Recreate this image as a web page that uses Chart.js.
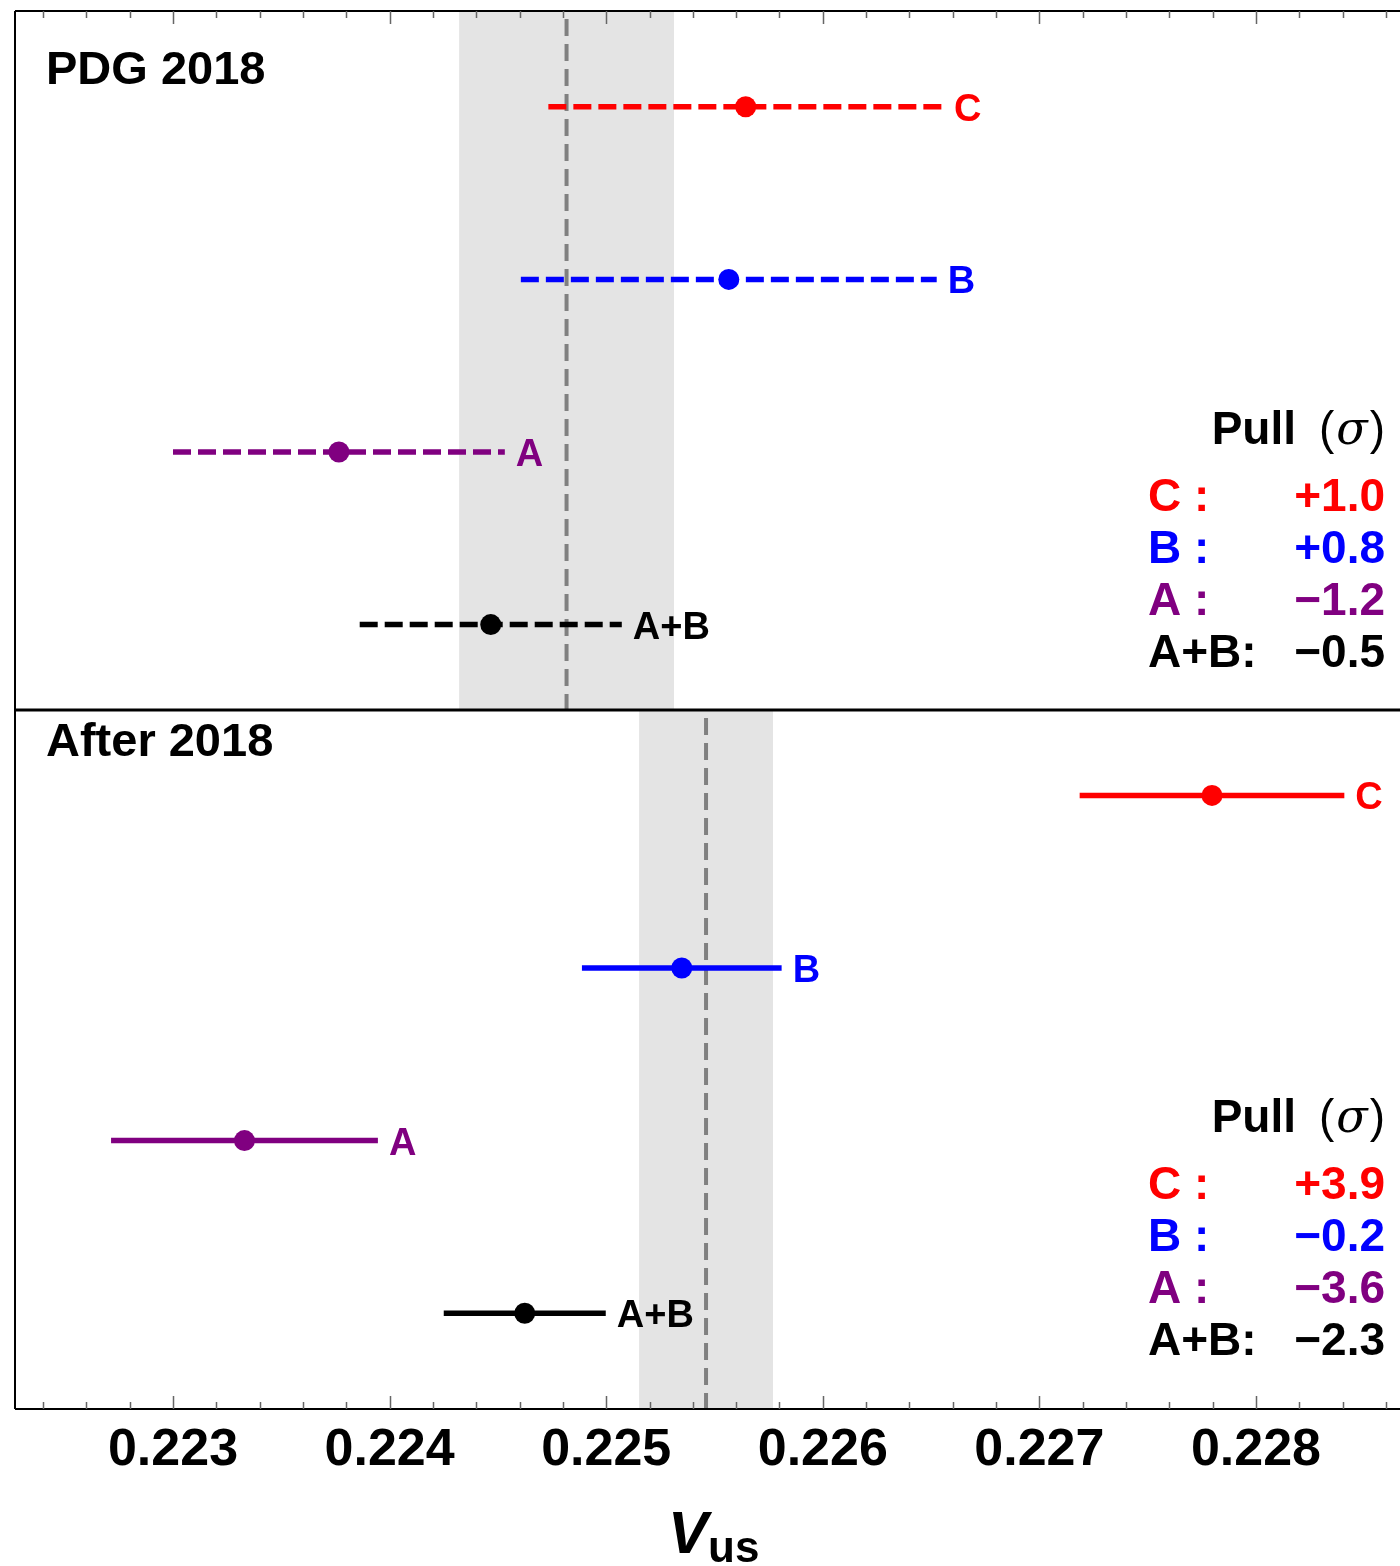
<!DOCTYPE html>
<html>
<head>
<meta charset="utf-8">
<script src="https://cdn.jsdelivr.net/npm/chart.js@4.4.1/dist/chart.umd.min.js"></script>
<style>
  html, body { margin: 0; padding: 0; background: #fff; }
  #wrap { position: relative; width: 1400px; height: 1566px; }
</style>
</head>
<body>
<div id="wrap"><canvas id="vusChart"></canvas></div>
<script>
// ── Data ──────────────────────────────────────────────────────────────────
const LABELS = ['C', 'B', 'A', 'A+B'];
const COLORS = ['#ff0000', '#0000ff', '#800080', '#000000'];

// PDG 2018 panel (dashed bars)
const PDG_CENTRAL = [0.225644, 0.225566, 0.223766, 0.224467];
const PDG_ERROR   = [0.000911, 0.000960, 0.000766, 0.000605];
const PDG_PULL    = ['+1.0', '+0.8', '\u22121.2', '\u22120.5'];
const PDG_FIT     = 0.224817;
const PDG_FIT_ERR = 0.000496;

// After 2018 panel (solid bars)
const NEW_CENTRAL = [0.227797, 0.225349, 0.223330, 0.224624];
const NEW_ERROR   = [0.000611, 0.000461, 0.000616, 0.000374];
const NEW_PULL    = ['+3.9', '\u22120.2', '\u22123.6', '\u22122.3'];
const NEW_FIT     = 0.225461;
const NEW_FIT_ERR = 0.000309;

// Row positions on the (hidden, reversed) y scale
const PDG_ROWS    = [0.555, 1.555, 2.555, 3.555];
const NEW_ROWS    = [4.545, 5.545, 6.545, 7.545];
const PANEL_SPLIT = 4.05;
const Y_MAX       = 8.1;

const PANEL_TITLES = ['PDG 2018', 'After 2018'];

// x axis
const X_MIN       = 0.2222705;
const X_MAX       = 0.228665;
const TICK_LABELS = ['0.223', '0.224', '0.225', '0.226', '0.227', '0.228'];
const MINOR_STEP  = 0.0002;

// ── Style tokens ──────────────────────────────────────────────────────────
const FONT      = '"Liberation Sans", Arial, Helvetica, sans-serif';
const BAND      = '#e4e4e4';
const FIT_LINE  = '#808080';
const TICK_GREY = '#666666';

function rowDataset(center, err, y, color, dashed) {
  return {
    data: [
      { x: center - err, y },
      { x: center,       y },
      { x: center + err, y },
    ],
    showLine:             true,
    borderColor:          color,
    backgroundColor:      color,
    borderWidth:          5.5,
    borderDash:           dashed ? [18, 7] : [],
    pointRadius:          ctx => (ctx.dataIndex === 1 ? 10.5 : 0),
    pointBackgroundColor: color,
    pointBorderWidth:     0,
  };
}

const datasets = [];
LABELS.forEach((_, i) => datasets.push(rowDataset(PDG_CENTRAL[i], PDG_ERROR[i], PDG_ROWS[i], COLORS[i], true)));
LABELS.forEach((_, i) => datasets.push(rowDataset(NEW_CENTRAL[i], NEW_ERROR[i], NEW_ROWS[i], COLORS[i], false)));

// ── Decorations: bands, fit lines, frame, inward ticks, labels ────────────
const decorPlugin = {
  id: 'decor',
  beforeDatasetsDraw(chart) {
    const { ctx, scales: { x, y } } = chart;
    const panels = [
      { fit: PDG_FIT, err: PDG_FIT_ERR, y0: 0,           y1: PANEL_SPLIT },
      { fit: NEW_FIT, err: NEW_FIT_ERR, y0: PANEL_SPLIT, y1: Y_MAX },
    ];
    ctx.save();
    panels.forEach(p => {
      const top = y.getPixelForValue(p.y0);
      const bot = y.getPixelForValue(p.y1);
      const xl  = x.getPixelForValue(p.fit - p.err);
      const xr  = x.getPixelForValue(p.fit + p.err);
      ctx.fillStyle = BAND;
      ctx.fillRect(xl, top, xr - xl, bot - top);

      const xc = x.getPixelForValue(p.fit);
      ctx.strokeStyle = FIT_LINE;
      ctx.lineWidth = 4;
      ctx.setLineDash([17, 8]);
      ctx.lineDashOffset = -8;
      ctx.beginPath();
      ctx.moveTo(xc, top);
      ctx.lineTo(xc, bot);
      ctx.stroke();
    });
    ctx.restore();
  },
  afterDatasetsDraw(chart) {
    const { ctx, chartArea: a, scales: { x, y } } = chart;
    ctx.save();

    // frame + divider
    ctx.strokeStyle = '#000';
    ctx.lineWidth = 2;
    ctx.beginPath();
    ctx.moveTo(a.left, a.top);    ctx.lineTo(a.right, a.top);
    ctx.moveTo(a.left, a.top);    ctx.lineTo(a.left, a.bottom);
    ctx.moveTo(a.left, a.bottom); ctx.lineTo(a.right, a.bottom);
    ctx.stroke();
    const ySplit = y.getPixelForValue(PANEL_SPLIT);
    ctx.lineWidth = 3;
    ctx.beginPath();
    ctx.moveTo(a.left, ySplit); ctx.lineTo(a.right, ySplit);
    ctx.stroke();

    // inward ticks top & bottom, taken from the x scale
    ctx.strokeStyle = TICK_GREY;
    ctx.lineWidth = 1.5;
    ctx.beginPath();
    x.ticks.forEach(t => {
      const px = Math.round(x.getPixelForValue(t.value)) + 0.5;
      const len = t.label ? 13 : 7;
      ctx.moveTo(px, a.top);    ctx.lineTo(px, a.top + len);
      ctx.moveTo(px, a.bottom); ctx.lineTo(px, a.bottom - len);
    });
    ctx.stroke();

    // labels at the right end of each bar
    ctx.font = `bold 38px ${FONT}`;
    ctx.textAlign = 'left';
    ctx.textBaseline = 'alphabetic';
    datasets.forEach((ds, i) => {
      const end = chart.getDatasetMeta(i).data[2];
      ctx.fillStyle = COLORS[i % 4];
      ctx.fillText(LABELS[i % 4], end.x + 11, end.y + 14);
    });

    // panel titles
    ctx.fillStyle = '#000';
    ctx.font = `bold 47px ${FONT}`;
    ctx.fillText(PANEL_TITLES[0], 46, 84);
    ctx.fillText(PANEL_TITLES[1], 46, 756);

    // pull tables
    const tables = [
      { rows: PDG_ROWS, pulls: PDG_PULL },
      { rows: NEW_ROWS, pulls: NEW_PULL },
    ];
    const rightX = 1385, leftX = 1148;
    tables.forEach(tb => {
      const y0 = y.getPixelForValue(tb.rows[0]);
      // header "Pull  (σ)"
      let xr = rightX;
      const hy = y0 + 337;
      ctx.fillStyle = '#000';
      ctx.textAlign = 'right';
      ctx.font = `46px ${FONT}`;
      ctx.fillText(')', xr, hy);
      xr -= ctx.measureText(')').width;
      ctx.font = `italic 46px "DejaVu Serif", "Liberation Serif", serif`;
      ctx.fillText('\u03c3', xr - 2, hy);
      xr -= ctx.measureText('\u03c3').width + 4;
      ctx.font = `46px ${FONT}`;
      ctx.fillText('(', xr, hy);
      ctx.font = `bold 46px ${FONT}`;
      ctx.fillText('Pull', 1296, hy);

      tb.pulls.forEach((p, i) => {
        const by = y0 + 404 + i * 52;
        ctx.fillStyle = COLORS[i];
        ctx.font = `bold 46px ${FONT}`;
        ctx.textAlign = 'left';
        ctx.fillText(LABELS[i] === 'A+B' ? 'A+B:' : LABELS[i] + ' :', leftX, by);
        ctx.textAlign = 'right';
        ctx.fillText(p, rightX, by);
      });
    });

    // axis title V_us
    ctx.fillStyle = '#000';
    ctx.textAlign = 'left';
    ctx.font = `italic bold 60px ${FONT}`;
    ctx.fillText('V', 668, 1553);
    ctx.font = `bold 44px ${FONT}`;
    ctx.fillText('us', 708, 1562);

    ctx.restore();
  },
};

new Chart(document.getElementById('vusChart').getContext('2d'), {
  type: 'scatter',
  data: { datasets },
  plugins: [decorPlugin],
  options: {
    responsive:          true,
    maintainAspectRatio: false,
    animation:           false,
    events:              [],
    layout: { padding: { left: 15, top: 11, right: 0, bottom: 0 } },
    plugins: {
      legend:  { display: false },
      tooltip: { enabled: false },
    },
    scales: {
      x: {
        type: 'linear',
        position: 'bottom',
        min: X_MIN,
        max: X_MAX,
        grid:   { display: false, drawTicks: false },
        border: { display: false },
        afterBuildTicks: s => {
          const t = [];
          for (let k = Math.ceil(X_MIN / MINOR_STEP); k * MINOR_STEP <= X_MAX + 1e-12; k++) {
            t.push({ value: +(k * MINOR_STEP).toFixed(4) });
          }
          s.ticks = t;
        },
        afterFit: s => { s.height = 157; },
        ticks: {
          autoSkip: false,
          maxRotation: 0,
          padding: 10,
          color: '#000',
          font: { family: FONT, size: 52, weight: 'bold' },
          callback: v => {
            const s = v.toFixed(3);
            return TICK_LABELS.includes(s) && Math.abs(v - Number(s)) < 1e-9 ? s : '';
          },
        },
      },
      y: {
        type: 'linear',
        display: false,
        reverse: true,
        min: 0,
        max: Y_MAX,
      },
    },
  },
});
</script>
</body>
</html>
